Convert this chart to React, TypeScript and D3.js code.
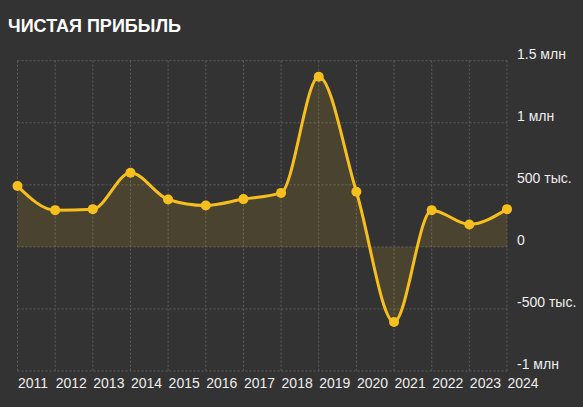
import * as d3 from "d3";

const years = [
  "2011", "2012", "2013", "2014", "2015", "2016", "2017",
  "2018", "2019", "2020", "2021", "2022", "2023", "2024",
];
const profit = [
  490000, 296000, 304000, 597000, 382000, 334000, 385000,
  435000, 1371000, 444000, -605000, 296000, 181000, 304000,
];

const yTicks = [-1000000, -500000, 0, 500000, 1000000, 1500000];
const yTickLabels = ["-1 млн", "-500 тыс.", "0", "500 тыс.", "1 млн", "1.5 млн"];

const width = 583;
const height = 407;
const plot = { left: 17.5, right: 507, top: 60.7, bottom: 371 };

const LINE = "#f6bf1d";
const GRID = "#5e5e5e";
const TEXT = "#eeeeee";

export default function App() {
  const xScale = d3
    .scalePoint<string>()
    .domain(years)
    .range([plot.left, plot.right]);

  const yScale = d3
    .scaleLinear()
    .domain([-1000000, 1500000])
    .range([plot.bottom, plot.top]);

  const data = years.map((y, i) => ({ year: y, value: profit[i] }));

  const line = d3
    .line<{ year: string; value: number }>()
    .x((d) => xScale(d.year)!)
    .y((d) => yScale(d.value))
    .curve(d3.curveMonotoneX);

  const area = d3
    .area<{ year: string; value: number }>()
    .x((d) => xScale(d.year)!)
    .y0(yScale(0))
    .y1((d) => yScale(d.value))
    .curve(d3.curveMonotoneX);

  return (
    <svg
      width={width}
      height={height}
      style={{ position: "absolute", left: 0, top: 0, display: "block" }}
      fontFamily="'Liberation Sans', Arial, sans-serif"
    >
      <rect x={0} y={0} width={width} height={height} fill="#333333" />

      <text x={8} y={32.3} fill="#ffffff" fontSize={18} fontWeight="bold">
        ЧИСТАЯ ПРИБЫЛЬ
      </text>

      {/* grid */}
      {yTicks.map((t) => (
        <line
          key={"h" + t}
          x1={plot.left}
          x2={plot.right}
          y1={yScale(t)}
          y2={yScale(t)}
          stroke={GRID}
          strokeWidth={1}
          strokeDasharray="2,2"
        />
      ))}
      {years.map((y) => (
        <line
          key={"v" + y}
          x1={xScale(y)}
          x2={xScale(y)}
          y1={plot.top}
          y2={plot.bottom}
          stroke={GRID}
          strokeWidth={1}
          strokeDasharray="2,2"
        />
      ))}

      {/* series */}
      <path d={area(data)!} fill={LINE} fillOpacity={0.12} />
      <path d={line(data)!} fill="none" stroke={LINE} strokeWidth={3} />
      {data.map((d) => (
        <circle
          key={d.year}
          cx={xScale(d.year)}
          cy={yScale(d.value)}
          r={5}
          fill={LINE}
        />
      ))}

      {/* y axis labels on the right */}
      {yTicks.map((t, i) => (
        <text
          key={"yl" + t}
          x={517}
          y={yScale(t) - 2}
          fill={TEXT}
          fontSize={14}
        >
          {yTickLabels[i]}
        </text>
      ))}

      {/* x axis labels */}
      {years.map((y) => (
        <text key={"xl" + y} x={xScale(y)! + 0.5} y={387.7} fill={TEXT} fontSize={14}>
          {y}
        </text>
      ))}
    </svg>
  );
}
